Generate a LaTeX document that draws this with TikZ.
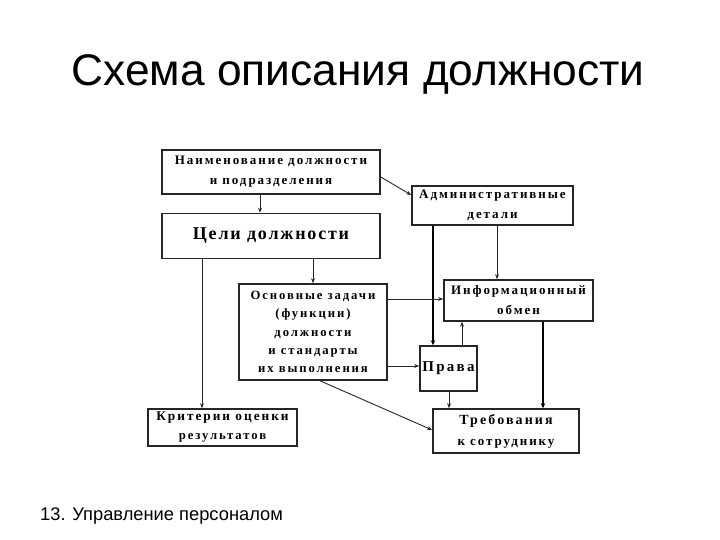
\documentclass[tikz,border=0pt]{standalone}
\usepackage{fontspec}
\setmainfont{Liberation Serif}
\newfontfamily\boxfont[LetterSpace=15]{Liberation Serif}
\newfontfamily\bigboxfont[LetterSpace=10]{Liberation Serif}
\newfontfamily\sansfont{Liberation Sans}
\usetikzlibrary{arrows.meta}
\begin{document}
\begin{tikzpicture}[x=1pt,y=-1pt,
  bx/.style={draw=black!85,line width=1.6pt,inner sep=0pt,align=center,
    font=\boxfont\bfseries\fontsize{13}{20}\selectfont},
  arr/.style={draw=black!85,line width=0.9pt,-{Stealth[length=5pt,width=4pt]}},
  thk/.style={draw=black,line width=2pt,-{Stealth[length=5pt,width=4.5pt]}}]
\useasboundingbox (0,0) rectangle (720,540);
\node[anchor=base,inner sep=0pt,font=\sansfont\fontsize{44.3}{48}\selectfont] (title) at (358,86) {Схема описания должности};
\node[anchor=base west,inner sep=0pt,font=\sansfont\fontsize{18.3}{22}\selectfont] (foot) at (40,520) {13. Управление персоналом};

\node[bx,minimum width=218,minimum height=44] (b1) at (271,172) {Наименование должности\\и подразделения};
\node[bx,minimum width=218,minimum height=45,font=\bigboxfont\bfseries\fontsize{18}{22}\selectfont] (b2) at (271,236) {Цели должности};
\node[bx,minimum width=161,minimum height=39] (adm) at (492.5,205.5) {Административные\\детали};
\node[bx,minimum width=149,minimum height=41] (inf) at (518.5,300.5) {Информационный\\обмен};
\node[bx,minimum width=148,minimum height=96,font=\boxfont\bfseries\fontsize{12.7}{18.2}\selectfont] (osn) at (313,332) {Основные задачи\\(функции)\\должности\\и стандарты\\их выполнения};
\node[bx,minimum width=57,minimum height=45,font=\boxfont\bfseries\fontsize{15}{18}\selectfont] (prava) at (448.5,368.5) {Права};
\node[bx,minimum width=146,minimum height=44,font=\boxfont\bfseries\fontsize{13}{21}\selectfont] (treb) at (506,431) {{\fontsize{14}{21}\selectfont Требования}\\к сотруднику};
\node[bx,minimum width=149,minimum height=37,font=\boxfont\bfseries\fontsize{12.7}{19}\selectfont] (krit) at (222.5,427.5) {\raisebox{-2pt}[0pt][0pt]{\begin{tabular}{@{}c@{}}{\fontsize{13.3}{19}\selectfont Критерии оценки}\\результатов\end{tabular}}};

\draw[arr] (b1.south -| 260,0) -- (b2.north -| 260,0);
\draw[arr] (b1.east |- 0,177) -- (adm.west |- 0,195);
\draw[arr] (b2.south -| 202,0) -- (krit.north -| 202,0);
\draw[arr] (b2.south -| 313,0) -- (osn.north -| 313,0);
\draw[arr] (adm.south -| 497,0) -- (inf.north -| 497,0);
\draw[thk] (adm.south -| 433,0) -- (prava.north -| 433,0);
\draw[arr] (osn.east |- 0,299) -- (inf.west |- 0,299);
\draw[arr] (osn.east |- 0,366) -- (prava.west |- 0,366);
\draw[arr] (prava.north -| 462,0) -- (inf.south -| 462,0);
\draw[thk] (inf.south -| 543,0) -- (treb.north -| 543,0);
\draw[arr] (prava.south -| 449,0) -- (treb.north -| 449,0);
\draw[arr] (osn.south -| 320,0) -- (treb.west |- 0,430);
\end{tikzpicture}
\end{document}
